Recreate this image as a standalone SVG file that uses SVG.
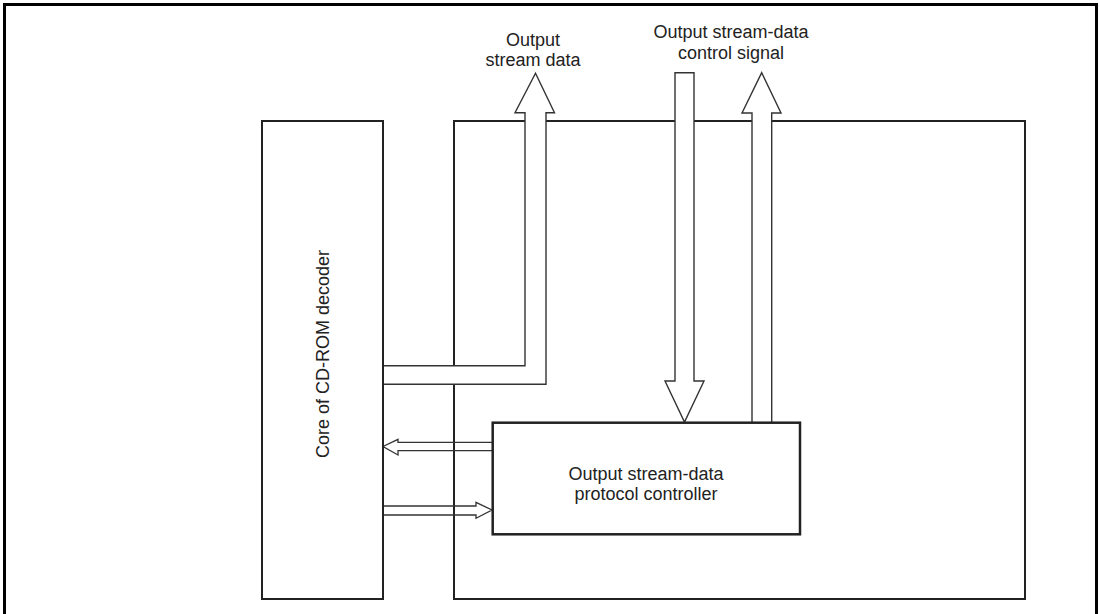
<svg xmlns="http://www.w3.org/2000/svg" width="1100" height="614" viewBox="0 0 1100 614">
  <style>
    .frame { fill: none; stroke: #000; stroke-width: 3; }
    .box { fill: none; stroke: #222; stroke-width: 2; }
    .ctl { fill: #fff; stroke: #222; stroke-width: 2.5; }
    .arrow { fill: #fff; stroke: #333; stroke-width: 1.4; stroke-linejoin: miter; }
    .thin { fill: none; stroke: #333; stroke-width: 1.3; }
    .lbl { font-family: "Liberation Sans", Arial, sans-serif; font-size: 18px; fill: #222; text-anchor: middle; }
  </style>
  <rect class="frame" x="4.5" y="4.5" width="1092" height="640"/>

  <g id="main-box">
    <rect class="box" x="454" y="121" width="571" height="478"/>
  </g>

  <g id="connectors">
    <path class="arrow" d="M383,365.7 H525 V112.7 H515 L535.5,73.3 L554.5,112.7 H546 V384.3 H383"/>
    <path class="arrow" d="M675,72.7 H694 V381 H704 L684.5,422 L665,381 H675 Z"/>
    <path class="arrow" d="M752,423 V113 H742 L761.7,72.7 L781,113 H771.7 V423"/>
    <path class="thin" d="M492.7,442.3 H398 V439.3 L383,446.5 L398,455 V450.7 H492.7"/>
    <path class="thin" d="M383,506 H476 V502.3 L492,510 L476,518.3 V515 H383"/>
  </g>

  <g id="core-box">
    <rect class="box" x="262" y="121" width="121" height="478"/>
    <text class="lbl" transform="translate(329,354) rotate(-90)">Core of CD-ROM decoder</text>
  </g>

  <g id="controller">
    <rect class="ctl" x="492.7" y="422.7" width="307.3" height="111.6"/>
    <text class="lbl" x="646" y="480">Output stream-data</text>
    <text class="lbl" x="646" y="500">protocol controller</text>
  </g>

  <g id="label-output-stream-data">
    <text class="lbl" x="533" y="46">Output</text>
    <text class="lbl" x="533" y="66">stream data</text>
  </g>

  <g id="label-control-signal">
    <text class="lbl" x="731" y="38">Output stream-data</text>
    <text class="lbl" x="731" y="59">control signal</text>
  </g>
</svg>
